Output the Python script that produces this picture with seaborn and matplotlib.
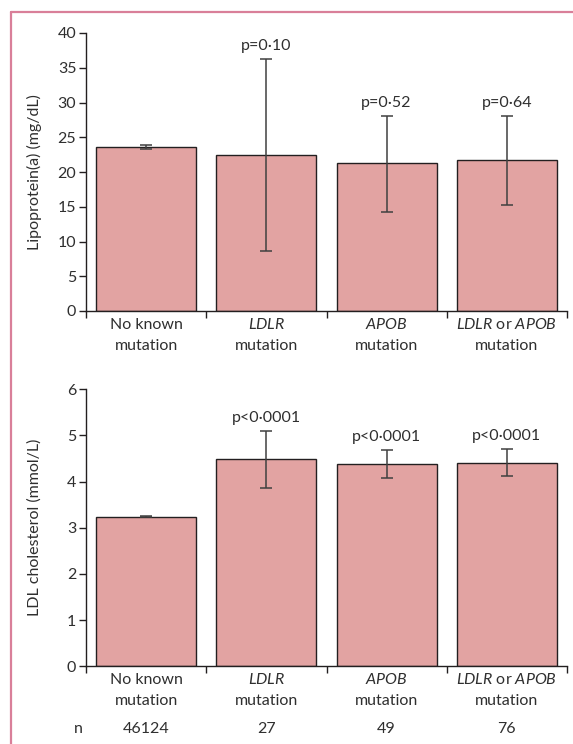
import numpy as np
import pandas as pd
import seaborn as sns
import matplotlib.pyplot as plt
from matplotlib.lines import Line2D
from matplotlib.transforms import blended_transform_factory

# Data -------------------------
groups = ["No known", "LDLR", "APOB", "LDLR or APOB"]
label_line1 = ["No known", "$\\mathit{LDLR}$", "$\\mathit{APOB}$",
               "$\\mathit{LDLR}$ or $\\mathit{APOB}$"]
label_line2 = ["mutation", "mutation", "mutation", "mutation"]

lpa_mean = [23.6, 22.4, 21.3, 21.7]
lpa_low = [23.3, 8.7, 14.3, 15.3]
lpa_high = [23.9, 36.3, 28.1, 28.1]
lpa_p = ["", "p=0·10", "p=0·52", "p=0·64"]

ldl_mean = [3.24, 4.48, 4.38, 4.41]
ldl_low = [3.23, 3.86, 4.07, 4.12]
ldl_high = [3.25, 5.09, 4.69, 4.71]
ldl_p = ["", "p<0·0001", "p<0·0001", "p<0·0001"]

n_counts = ["46124", "27", "49", "76"]

# Style -----
sns.set_theme(style="ticks")
plt.rcParams["font.family"] = ["Lato", "DejaVu Sans"]
plt.rcParams["mathtext.fontset"] = "custom"
plt.rcParams["mathtext.rm"] = "Lato"
plt.rcParams["mathtext.it"] = "Lato:italic"

text_col = "#2f2f2f"
bar_col = "#e2a3a2"
edge_col = "#231f20"
err_col = "#404040"
fs = 11.5

fig = plt.figure(figsize=(5.73, 7.44), dpi=100)
ax1 = fig.add_axes([86 / 573, 1 - 311 / 744, 481 / 573, 278 / 744])
ax2 = fig.add_axes([86 / 573, 1 - 666.3 / 744, 481 / 573, 277 / 744])


def draw_panel(ax, mean, low, high, pvals, ymax, ylabel):
    df = pd.DataFrame({"group": groups, "value": mean})
    sns.barplot(data=df, x="group", y="value", color=bar_col, saturation=1,
                edgecolor=edge_col, linewidth=1.0, width=0.83,
                errorbar=None, ax=ax)
    xs = np.arange(len(groups))
    yerr = [np.array(mean) - np.array(low), np.array(high) - np.array(mean)]
    ax.errorbar(xs, mean, yerr=yerr, fmt="none", ecolor=err_col,
                elinewidth=1.1, capsize=4, capthick=1.1, zorder=5)
    for x, h, p in zip(xs, high, pvals):
        if p:
            ax.annotate(p, (x, h), xytext=(0, 9.5), textcoords="offset points",
                        ha="center", va="center", fontsize=fs, color=text_col)

    ax.set_xlim(-0.5, len(groups) - 0.5)
    ax.set_ylim(0, ymax)
    sns.despine(ax=ax)
    for s in ["left", "bottom"]:
        ax.spines[s].set_color(edge_col)
        ax.spines[s].set_linewidth(1.0)

    # category labels drawn line by line so plain and italic lines align
    ax.set_xticks(xs)
    ax.set_xticklabels([""] * len(groups))
    trans = blended_transform_factory(ax.transData, ax.transAxes)
    for x, l1, l2 in zip(xs, label_line1, label_line2):
        ax.annotate(l1, (x, 0), xycoords=trans, xytext=(0, -9.8),
                    textcoords="offset points", ha="center", va="center",
                    fontsize=fs, color=text_col)
        ax.annotate(l2, (x, 0), xycoords=trans, xytext=(0, -24.9),
                    textcoords="offset points", ha="center", va="center",
                    fontsize=fs, color=text_col)
    ax.set_xticks(np.arange(-0.5, len(groups)), minor=True)
    ax.tick_params(axis="x", which="major", length=0)
    ax.tick_params(axis="x", which="minor", length=5, width=1.0,
                   color=edge_col, direction="out")
    ax.tick_params(axis="y", length=5, width=1.0, color=edge_col,
                   labelsize=fs, labelcolor=text_col, pad=2)
    ax.set_xlabel("")
    ax.set_ylabel(ylabel, fontsize=fs, color=text_col)
    ax.yaxis.set_label_coords(-0.092, 0.5)


draw_panel(ax1, lpa_mean, lpa_low, lpa_high, lpa_p, 40, "Lipoprotein(a) (mg/dL)")
ax1.set_yticks(range(0, 41, 5))

draw_panel(ax2, ldl_mean, ldl_low, ldl_high, ldl_p, 6, "LDL cholesterol (mmol/L)")
ax2.set_yticks(range(0, 7))

# n row under the lower panel
trans = blended_transform_factory(ax2.transData, ax2.transAxes)
for i, n in enumerate(n_counts):
    ax2.text(i, -0.226, n, transform=trans, ha="center", va="center",
             fontsize=fs, color=text_col)
ax2.text(-0.56, -0.226, "n", transform=trans, ha="center", va="center",
         fontsize=fs, color=text_col)

# Pink frame (left and top)
frame_col = "#d97f99"
fig.add_artist(Line2D([10.5 / 573, 10.5 / 573], [0, 1 - 12 / 744],
                      transform=fig.transFigure, color=frame_col, lw=1.6))
fig.add_artist(Line2D([10.5 / 573, 1], [1 - 12 / 744, 1 - 12 / 744],
                      transform=fig.transFigure, color=frame_col, lw=1.6))

fig.savefig("out.png", dpi=100, facecolor="white")
